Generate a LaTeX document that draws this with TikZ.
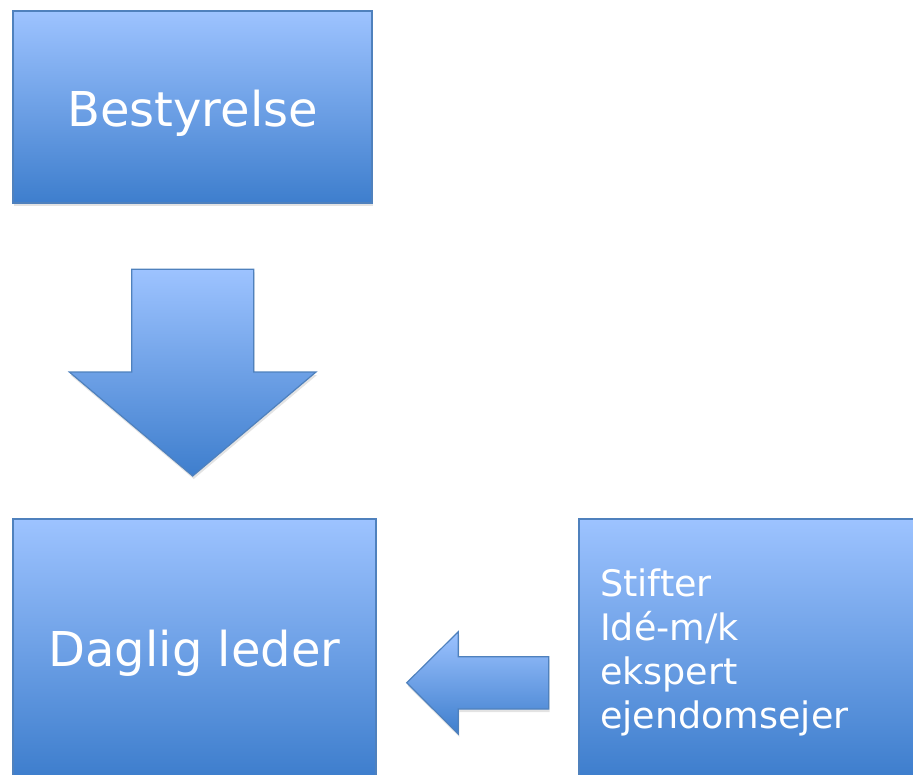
\documentclass[tikz,border=0pt]{standalone}
\usepackage{fontspec}
\setmainfont{DejaVu Sans}
\usetikzlibrary{shadows}
\definecolor{gtop}{RGB}{157,195,255}
\definecolor{gbot}{RGB}{62,126,205}
\definecolor{edgeblue}{RGB}{79,129,189}
\begin{document}
\begin{tikzpicture}[x=1pt,y=-1pt,
  softshadow/.style={drop shadow={opacity=0.22, shadow xshift=1pt, shadow yshift=-3pt}},
  boxstyle/.style={draw=edgeblue, line width=1.3pt, top color=gtop, bottom color=gbot,
    inner sep=0pt, outer sep=0pt, anchor=north west, text=white, softshadow,
    text height=40pt, text depth=2pt},
  arrowshape/.style={draw=edgeblue, line width=1.2pt, top color=gtop, bottom color=gbot, softshadow, line join=miter},
  roletext/.style={anchor=north west, inner sep=0pt, text=white, align=left,
    font=\fontsize{36.5}{44}\selectfont}]
\useasboundingbox (0,0) rectangle (913,774);
\begin{scope}
\clip (0,0) rectangle (913,774);
\node[boxstyle, minimum width=359pt, minimum height=192pt,
  font=\fontsize{48}{58}\selectfont] (best) at (13,11) {Bestyrelse};
\node[boxstyle, minimum width=363pt, minimum height=257pt,
  font=\fontsize{48}{58}\selectfont] (daglig) at (13,519) {Daglig leder};
\node[boxstyle, minimum width=345pt, minimum height=257pt] (ext) at (579,519) {};
\node[roletext] (roles) at (600,568.5) {Stifter\\Idé-m/k\\ekspert\\ejendomsejer};
% down arrow
\path[arrowshape] (131.7,269.3) -- (253.7,269.3) -- (253.7,372) -- (316,372)
  -- (192.7,476) -- (69.3,372) -- (131.7,372) -- cycle;
% left arrow
\path[arrowshape] (548.7,656.7) -- (548.7,709) -- (458.3,709) -- (458.3,734)
  -- (406.7,682.8) -- (458.3,631.7) -- (458.3,656.7) -- cycle;
\end{scope}
\end{tikzpicture}
\end{document}
